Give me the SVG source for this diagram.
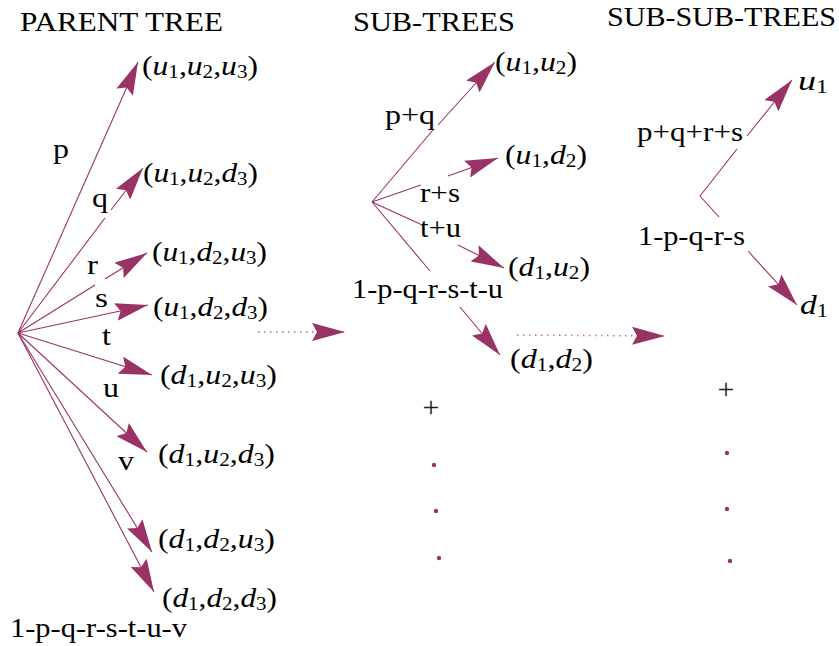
<svg xmlns="http://www.w3.org/2000/svg" width="839" height="646" viewBox="0 0 839 646">
<style>
.t{font-family:"Liberation Serif","Times New Roman",serif;font-size:27px;fill:#000}
.i{font-style:italic}
.sb{font-size:18px}
.ln{fill:none;stroke:#993366;stroke-width:1.1;marker-end:url(#ah)}
.dt{fill:none;stroke:#cc6699;stroke-width:1.5;stroke-dasharray:1.5 4.5;marker-end:url(#ah)}
.el{fill:#993366}
.pl{font-family:"Liberation Serif","Times New Roman",serif;font-size:30px;fill:#222;text-anchor:middle}
</style>
<defs>
<marker id="ah" markerUnits="userSpaceOnUse" viewBox="0 0 34 18" markerWidth="34" markerHeight="18" refX="33" refY="9" orient="auto">
<path d="M0,0 L33,9 L0,18 L5,9 Z" fill="#993366"/>
</marker>
</defs>
<rect width="839" height="646" fill="#fff"/>

<g id="titles">
<text class="t" x="20" y="31" textLength="203" lengthAdjust="spacingAndGlyphs">PARENT TREE</text>
<text class="t" x="353" y="31" textLength="162" lengthAdjust="spacingAndGlyphs">SUB-TREES</text>
<text class="t" x="607" y="26" textLength="229" lengthAdjust="spacingAndGlyphs">SUB-SUB-TREES</text>
</g>

<g id="connectors">
<path class="ln" d="M18,333 L138,62"/>
<path class="ln" d="M18,333 L105,218 M111,210 L143,168"/>
<path class="ln" d="M18,333 L95,285 M105,279 L147,253"/>
<path class="ln" d="M18,333 L148,305"/>
<path class="ln" d="M18,333 L152,375"/>
<path class="ln" d="M18,333 L147,452"/>
<path class="ln" d="M18,333 L152,552"/>
<path class="ln" d="M18,333 L154,592"/>
<path class="ln" d="M372,202 L433,130 M438,125 L495,62"/>
<path class="ln" d="M372,202 L421,185 M448,176 L498,158"/>
<path class="ln" d="M372,202 L420,224 M458,245 L504,268"/>
<path class="ln" d="M372,202 L430,271 M460,307 L500,355"/>
<path class="ln" d="M700,196 L737,149 M747,136 L792,80"/>
<path class="ln" d="M700,196 L719,217 M748,251 L797,305"/>
<path class="dt" d="M258,332 L345,332"/>
<path class="dt" d="M517,335 L665,336"/>
</g>

<g id="edge-labels">
<text class="t" x="53" y="158" textLength="16" lengthAdjust="spacingAndGlyphs">p</text>
<text class="t" x="92" y="207" textLength="16" lengthAdjust="spacingAndGlyphs">q</text>
<text class="t" x="87" y="274" textLength="11" lengthAdjust="spacingAndGlyphs">r</text>
<text class="t" x="95" y="307" textLength="13" lengthAdjust="spacingAndGlyphs">s</text>
<text class="t" x="102" y="345" textLength="9" lengthAdjust="spacingAndGlyphs">t</text>
<text class="t" x="103" y="397" textLength="16" lengthAdjust="spacingAndGlyphs">u</text>
<text class="t" x="118" y="470" textLength="16" lengthAdjust="spacingAndGlyphs">v</text>
<text class="t" x="10" y="637" textLength="177" lengthAdjust="spacingAndGlyphs">1-p-q-r-s-t-u-v</text>
<text class="t" x="385" y="124" textLength="50" lengthAdjust="spacingAndGlyphs">p+q</text>
<text class="t" x="420" y="202" textLength="40" lengthAdjust="spacingAndGlyphs">r+s</text>
<text class="t" x="420" y="237" textLength="41" lengthAdjust="spacingAndGlyphs">t+u</text>
<text class="t" x="352" y="298" textLength="151" lengthAdjust="spacingAndGlyphs">1-p-q-r-s-t-u</text>
<text class="t" x="637" y="141" textLength="106" lengthAdjust="spacingAndGlyphs">p+q+r+s</text>
<text class="t" x="638" y="245" textLength="107" lengthAdjust="spacingAndGlyphs">1-p-q-r-s</text>
</g>

<g id="n-u1u2u3"><text class="t" x="142" y="75" textLength="116" lengthAdjust="spacingAndGlyphs">(<tspan class="i">u</tspan><tspan class="sb" dy="3">1</tspan><tspan dy="-3">,</tspan><tspan class="i">u</tspan><tspan class="sb" dy="3">2</tspan><tspan dy="-3">,</tspan><tspan class="i">u</tspan><tspan class="sb" dy="3">3</tspan><tspan dy="-3">)</tspan></text></g>
<g id="n-u1u2d3"><text class="t" x="143" y="182" textLength="115" lengthAdjust="spacingAndGlyphs">(<tspan class="i">u</tspan><tspan class="sb" dy="3">1</tspan><tspan dy="-3">,</tspan><tspan class="i">u</tspan><tspan class="sb" dy="3">2</tspan><tspan dy="-3">,</tspan><tspan class="i">d</tspan><tspan class="sb" dy="3">3</tspan><tspan dy="-3">)</tspan></text></g>
<g id="n-u1d2u3"><text class="t" x="152" y="261" textLength="115" lengthAdjust="spacingAndGlyphs">(<tspan class="i">u</tspan><tspan class="sb" dy="3">1</tspan><tspan dy="-3">,</tspan><tspan class="i">d</tspan><tspan class="sb" dy="3">2</tspan><tspan dy="-3">,</tspan><tspan class="i">u</tspan><tspan class="sb" dy="3">3</tspan><tspan dy="-3">)</tspan></text></g>
<g id="n-u1d2d3"><text class="t" x="153" y="316" textLength="115" lengthAdjust="spacingAndGlyphs">(<tspan class="i">u</tspan><tspan class="sb" dy="3">1</tspan><tspan dy="-3">,</tspan><tspan class="i">d</tspan><tspan class="sb" dy="3">2</tspan><tspan dy="-3">,</tspan><tspan class="i">d</tspan><tspan class="sb" dy="3">3</tspan><tspan dy="-3">)</tspan></text></g>
<g id="n-d1u2u3"><text class="t" x="160" y="384" textLength="117" lengthAdjust="spacingAndGlyphs">(<tspan class="i">d</tspan><tspan class="sb" dy="3">1</tspan><tspan dy="-3">,</tspan><tspan class="i">u</tspan><tspan class="sb" dy="3">2</tspan><tspan dy="-3">,</tspan><tspan class="i">u</tspan><tspan class="sb" dy="3">3</tspan><tspan dy="-3">)</tspan></text></g>
<g id="n-d1u2d3"><text class="t" x="158" y="463" textLength="117" lengthAdjust="spacingAndGlyphs">(<tspan class="i">d</tspan><tspan class="sb" dy="3">1</tspan><tspan dy="-3">,</tspan><tspan class="i">u</tspan><tspan class="sb" dy="3">2</tspan><tspan dy="-3">,</tspan><tspan class="i">d</tspan><tspan class="sb" dy="3">3</tspan><tspan dy="-3">)</tspan></text></g>
<g id="n-d1d2u3"><text class="t" x="158" y="548" textLength="117" lengthAdjust="spacingAndGlyphs">(<tspan class="i">d</tspan><tspan class="sb" dy="3">1</tspan><tspan dy="-3">,</tspan><tspan class="i">d</tspan><tspan class="sb" dy="3">2</tspan><tspan dy="-3">,</tspan><tspan class="i">u</tspan><tspan class="sb" dy="3">3</tspan><tspan dy="-3">)</tspan></text></g>
<g id="n-d1d2d3"><text class="t" x="162" y="607" textLength="115" lengthAdjust="spacingAndGlyphs">(<tspan class="i">d</tspan><tspan class="sb" dy="3">1</tspan><tspan dy="-3">,</tspan><tspan class="i">d</tspan><tspan class="sb" dy="3">2</tspan><tspan dy="-3">,</tspan><tspan class="i">d</tspan><tspan class="sb" dy="3">3</tspan><tspan dy="-3">)</tspan></text></g>

<g id="n-u1u2"><text class="t" x="495" y="71" textLength="82" lengthAdjust="spacingAndGlyphs">(<tspan class="i">u</tspan><tspan class="sb" dy="3">1</tspan><tspan dy="-3">,</tspan><tspan class="i">u</tspan><tspan class="sb" dy="3">2</tspan><tspan dy="-3">)</tspan></text></g>
<g id="n-u1d2"><text class="t" x="505" y="164" textLength="82" lengthAdjust="spacingAndGlyphs">(<tspan class="i">u</tspan><tspan class="sb" dy="3">1</tspan><tspan dy="-3">,</tspan><tspan class="i">d</tspan><tspan class="sb" dy="3">2</tspan><tspan dy="-3">)</tspan></text></g>
<g id="n-d1u2"><text class="t" x="508" y="276" textLength="82" lengthAdjust="spacingAndGlyphs">(<tspan class="i">d</tspan><tspan class="sb" dy="3">1</tspan><tspan dy="-3">,</tspan><tspan class="i">u</tspan><tspan class="sb" dy="3">2</tspan><tspan dy="-3">)</tspan></text></g>
<g id="n-d1d2"><text class="t" x="510" y="368" textLength="83" lengthAdjust="spacingAndGlyphs">(<tspan class="i">d</tspan><tspan class="sb" dy="3">1</tspan><tspan dy="-3">,</tspan><tspan class="i">d</tspan><tspan class="sb" dy="3">2</tspan><tspan dy="-3">)</tspan></text></g>

<g id="n-u1"><text class="t" x="798" y="90" textLength="30" lengthAdjust="spacingAndGlyphs"><tspan class="i">u</tspan><tspan class="sb" dy="3">1</tspan></text></g>
<g id="n-d1"><text class="t" x="800" y="314" textLength="28" lengthAdjust="spacingAndGlyphs"><tspan class="i">d</tspan><tspan class="sb" dy="3">1</tspan></text></g>

<g id="more-sub">
<text class="pl" x="431" y="417">+</text>
<circle class="el" cx="434" cy="465" r="2.2"/>
<circle class="el" cx="436" cy="511" r="2.2"/>
<circle class="el" cx="439" cy="558" r="2.2"/>
</g>
<g id="more-subsub">
<text class="pl" x="726" y="399">+</text>
<circle class="el" cx="727" cy="453" r="2.2"/>
<circle class="el" cx="727" cy="509" r="2.2"/>
<circle class="el" cx="730" cy="561" r="2.2"/>
</g>
</svg>
